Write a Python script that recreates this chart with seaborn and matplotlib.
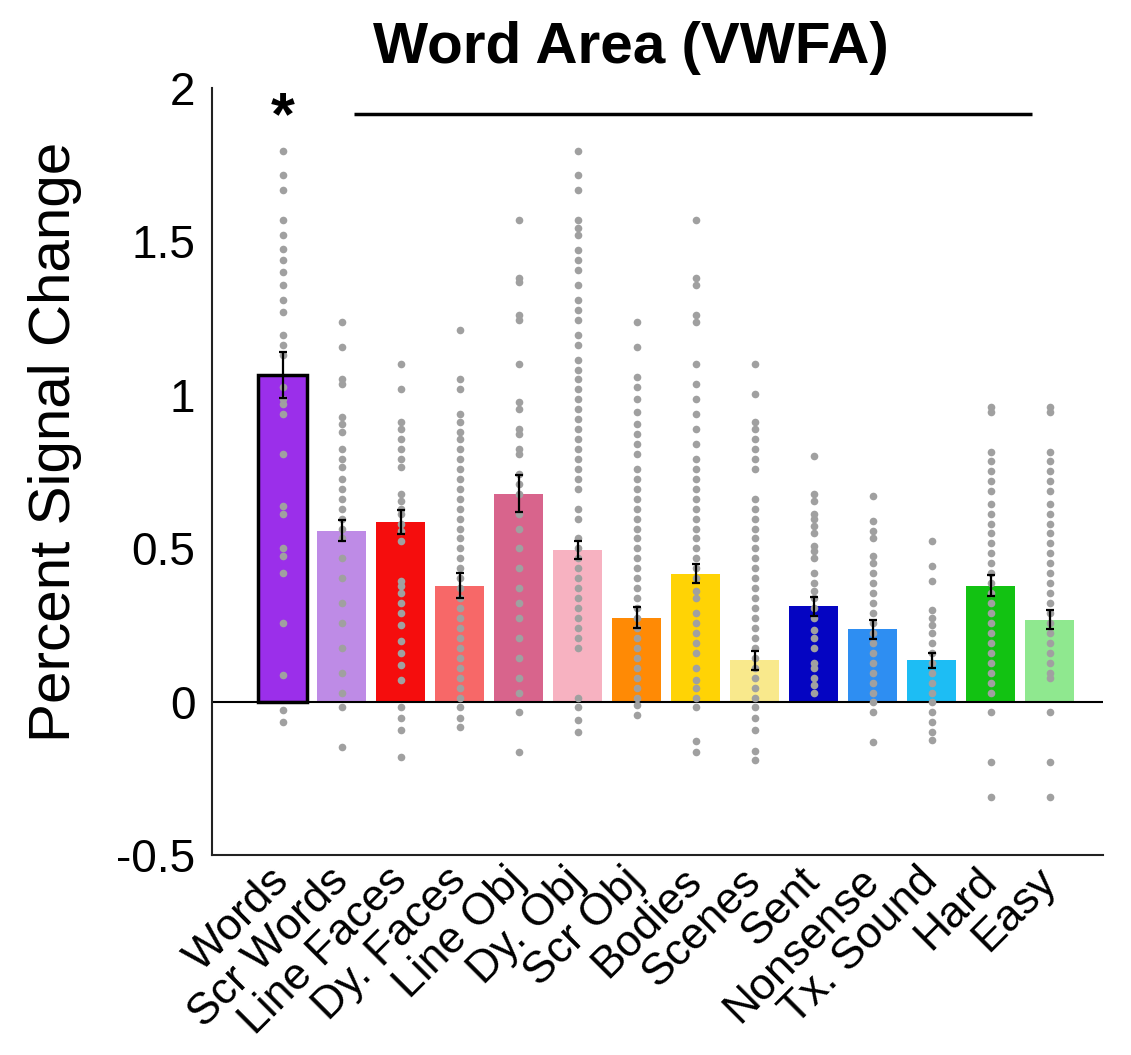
import numpy as np
import pandas as pd
import matplotlib
matplotlib.use("Agg")
import matplotlib.pyplot as plt
import seaborn as sns

# ---------------- data ----------------
categories = ["Words", "Scr Words", "Line Faces", "Dy. Faces", "Line Obj", "Dy. Obj",
              "Scr Obj", "Bodies", "Scenes", "Sent", "Nonsense", "Tx. Sound", "Hard", "Easy"]
means = [1.065, 0.557, 0.586, 0.378, 0.677, 0.495, 0.274, 0.417, 0.134, 0.310,
         0.235, 0.134, 0.378, 0.267]
sems = [0.075, 0.035, 0.040, 0.040, 0.060, 0.030, 0.035, 0.030, 0.030, 0.030,
        0.030, 0.025, 0.035, 0.030]
colors = ["#9B2FEA", "#BE8BE6", "#F50D0D", "#F76868", "#D8648C", "#F7B2C1",
          "#FF8A05", "#FFD305", "#F9E98C", "#0505C2", "#2E8EF2", "#1DBDF4",
          "#12C212", "#8FE88F"]

words_pts = [1.796, 1.715, 1.669, 1.569, 1.520, 1.475, 1.439, 1.399, 1.358, 1.309, 1.269,
             1.196, 1.163, 1.131, 1.026, 0.985, 0.969, 0.937, 0.807, 0.637, 0.612, 0.499,
             0.475, 0.418, 0.256, 0.086, -0.028, -0.068]
scr_words_pts = [1.236, 1.155, 1.050, 1.034, 0.929, 0.904, 0.880, 0.823, 0.791, 0.766, 0.726,
                 0.694, 0.661, 0.629, 0.596, 0.564, 0.532, 0.467, 0.402, 0.321, 0.256, 0.175,
                 0.094, 0.029, -0.019, -0.149]
line_faces_pts = [1.099, 1.018, 0.912, 0.888, 0.856, 0.823, 0.791, 0.766, 0.677, 0.653, 0.629,
                  0.612, 0.580, 0.556, 0.524, 0.394, 0.378, 0.353, 0.321, 0.289, 0.248, 0.199,
                  0.159, 0.118, 0.070, -0.019, -0.052, -0.092, -0.181]
dy_faces_pts = [1.212, 1.050, 1.018, 0.937, 0.912, 0.880, 0.856, 0.823, 0.791, 0.758, 0.726,
                0.694, 0.661, 0.629, 0.596, 0.564, 0.532, 0.499, 0.467, 0.434, 0.402, 0.370,
                0.337, 0.305, 0.272, 0.240, 0.208, 0.175, 0.143, 0.110, 0.078, 0.045, 0.013,
                -0.019, -0.052, -0.084]
line_obj_pts = [1.569, 1.382, 1.366, 1.261, 1.245, 1.099, 0.977, 0.953, 0.888, 0.872, 0.823,
                0.807, 0.742, 0.710, 0.677, 0.612, 0.564, 0.499, 0.434, 0.370, 0.321, 0.272,
                0.208, 0.143, 0.078, 0.029, -0.035, -0.165]
dy_obj_pts = [1.796, 1.715, 1.666, 1.569, 1.544, 1.520, 1.471, 1.439, 1.406, 1.358, 1.309,
              1.276, 1.244, 1.196, 1.163, 1.114, 1.082, 1.050, 1.018, 0.985, 0.953, 0.920,
              0.888, 0.856, 0.823, 0.791, 0.758, 0.726, 0.694, 0.629, 0.596, 0.532, 0.499,
              0.467, 0.434, 0.402, 0.370, 0.337, 0.305, 0.272, 0.240, 0.208, 0.175, 0.013,
              -0.019, -0.059, -0.100]
scr_obj_pts = [1.236, 1.155, 1.058, 1.026, 0.985, 0.945, 0.904, 0.872, 0.839, 0.807, 0.758,
               0.726, 0.694, 0.661, 0.629, 0.596, 0.564, 0.532, 0.499, 0.467, 0.434, 0.402,
               0.370, 0.337, 0.305, 0.272, 0.240, 0.208, 0.175, 0.143, 0.110, 0.078, 0.045,
               0.013, -0.011, -0.044]
bodies_pts = [1.569, 1.382, 1.358, 1.261, 1.236, 1.099, 1.034, 0.985, 0.937, 0.888, 0.839,
              0.791, 0.758, 0.726, 0.694, 0.661, 0.629, 0.596, 0.564, 0.532, 0.499, 0.467,
              0.434, 0.402, 0.362, 0.337, 0.289, 0.256, 0.224, 0.191, 0.159, 0.110, 0.070,
              0.045, 0.013, -0.019, -0.130, -0.165]
scenes_pts = [1.099, 1.002, 0.912, 0.888, 0.856, 0.823, 0.791, 0.758, 0.661, 0.629, 0.596,
              0.564, 0.532, 0.499, 0.467, 0.434, 0.402, 0.370, 0.337, 0.305, 0.272, 0.240,
              0.208, 0.175, 0.143, 0.110, 0.078, 0.045, 0.013, -0.019, -0.052, -0.092,
              -0.160, -0.189]
sent_pts = [0.799, 0.677, 0.653, 0.612, 0.596, 0.572, 0.548, 0.507, 0.491, 0.467, 0.418,
            0.386, 0.362, 0.337, 0.305, 0.272, 0.232, 0.208, 0.175, 0.127, 0.110, 0.078,
            0.054, 0.029]
nonsense_pts = [0.669, 0.588, 0.556, 0.532, 0.475, 0.451, 0.418, 0.386, 0.353, 0.321, 0.289,
                0.256, 0.224, 0.191, 0.159, 0.127, 0.094, 0.062, 0.029, -0.003, -0.035,
                -0.133]
tx_sound_pts = [0.524, 0.443, 0.394, 0.297, 0.272, 0.248, 0.224, 0.191, 0.159, 0.127, 0.094,
                0.062, 0.029, -0.003, -0.035, -0.068, -0.100, -0.125]
hard_pts = [0.961, 0.945, 0.815, 0.783, 0.750, 0.718, 0.686, 0.645, 0.612, 0.580, 0.548,
            0.516, 0.483, 0.451, 0.418, 0.386, 0.353, 0.321, 0.289, 0.256, 0.224, 0.191,
            0.159, 0.127, 0.094, 0.062, 0.029, -0.035, -0.197, -0.311]
easy_pts = [0.961, 0.945, 0.815, 0.783, 0.750, 0.718, 0.686, 0.645, 0.612, 0.580, 0.548,
            0.516, 0.483, 0.451, 0.418, 0.386, 0.353, 0.321, 0.289, 0.256, 0.224, 0.191,
            0.159, 0.127, 0.094, 0.078, -0.035, -0.197, -0.311]

point_lists = [words_pts, scr_words_pts, line_faces_pts, dy_faces_pts, line_obj_pts,
               dy_obj_pts, scr_obj_pts, bodies_pts, scenes_pts, sent_pts, nonsense_pts,
               tx_sound_pts, hard_pts, easy_pts]

yticks = [-0.5, 0, 0.5, 1, 1.5, 2]
ytick_labels = ["-0.5", "0", "0.5", "1", "1.5", "2"]
title = "Word Area (VWFA)"
ylabel = "Percent Signal Change"

# ---------------- style ----------------
sns.set_theme(style="white")
plt.rcParams["font.family"] = ["Liberation Sans", "DejaVu Sans"]
plt.rcParams["text.color"] = "black"
plt.rcParams["xtick.color"] = "black"
plt.rcParams["ytick.color"] = "black"

bar_df = pd.DataFrame({"cond": categories, "mean": means})
pts_df = pd.DataFrame({
    "cond": [c for c, pts in zip(categories, point_lists) for _ in pts],
    "val": [v for pts in point_lists for v in pts],
})

fig = plt.figure(figsize=(11.31, 10.55), dpi=100)
ax = fig.add_axes([0.1874, 0.1896, 0.7877, 0.7270])

sns.barplot(data=bar_df, x="cond", y="mean", hue="cond", order=categories,
            hue_order=categories, palette=colors, legend=False, width=0.83,
            errorbar=None, saturation=1, linewidth=0, ax=ax, zorder=2)
# black outline on the first bar
ax.patches[0].set_edgecolor("black")
ax.patches[0].set_linewidth(2.5)

ax.axhline(0, color="black", lw=1.5, zorder=2.5)

sns.stripplot(data=pts_df, x="cond", y="val", order=categories, jitter=False,
              color="#a0a0a0", size=5.5, linewidth=0, ax=ax, zorder=3)

ax.errorbar(np.arange(len(categories)), means, yerr=sems, fmt="none",
            ecolor="black", elinewidth=1.6, capsize=3, capthick=1.6, zorder=4)

# significance marks
ax.text(0, 1.85, "*", ha="center", va="baseline", fontsize=44, fontweight="bold",
        color="black")
ax.plot([1.2, 12.7], [1.915, 1.915], color="black", lw=2.5, clip_on=False,
        solid_capstyle="butt")

ax.set_xlim(-1.2, 13.9)
ax.set_ylim(-0.5, 2)
ax.set_yticks(yticks)
ax.set_yticklabels(ytick_labels, fontsize=33)
ax.set_xticks(np.arange(len(categories)))
ax.set_xticklabels(categories, fontsize=32, rotation=45, ha="right",
                   rotation_mode="anchor", va="center")
ax.set_xlabel("")
ax.set_ylabel("")

for s in ["top", "right"]:
    ax.spines[s].set_visible(False)
for s in ["left", "bottom"]:
    ax.spines[s].set_color("#222222")
    ax.spines[s].set_linewidth(1.5)
ax.tick_params(axis="both", direction="in", length=9, width=1.5, color="#222222",
               labelcolor="black")
ax.tick_params(axis="y", pad=12)
ax.tick_params(axis="x", pad=14)

fig.text(0.558, 0.9545, title, ha="center", va="center", fontsize=42,
         fontweight="bold", color="black")
fig.text(0.0486, 0.581, ylabel, ha="center", va="center", rotation=90, fontsize=42,
         color="black")

fig.savefig("out.png", dpi=100)
